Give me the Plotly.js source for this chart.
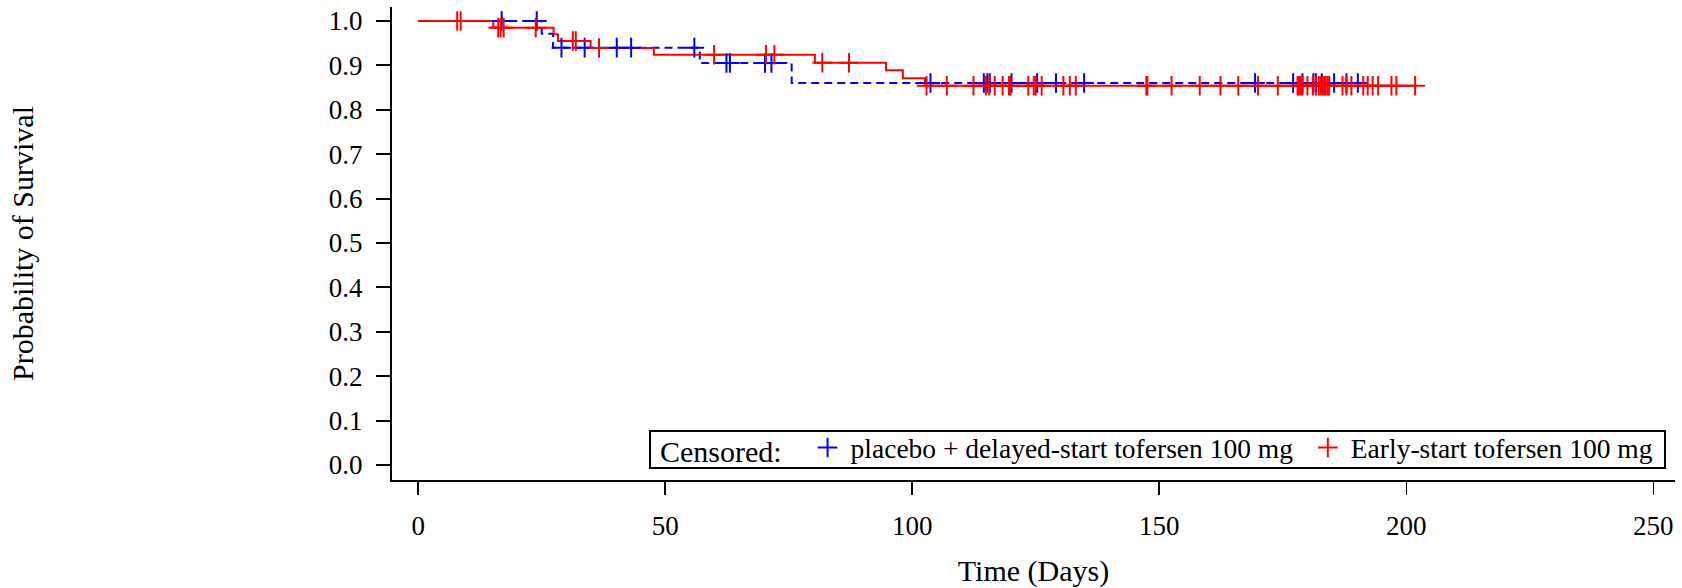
<!DOCTYPE html>
<html>
<head>
<meta charset="utf-8">
<script src="https://cdn.plot.ly/plotly-3.0.1.min.js"></script>
<style>html,body{margin:0;padding:0;background:#fff;}#chart{width:1682px;height:588px;}</style>
</head>
<body>
<div id="chart"></div>
<script>
// ---- Data ----
const placeboName = "placebo + delayed-start tofersen 100 mg";
const earlyName = "Early-start tofersen 100 mg";
const censoredLabel = "Censored:";

// Kaplan-Meier steps: event times (days) and survival after each event
const placeboEventTimes = [25, 27.3, 57, 75.6];
const placeboSurvival   = [0.971, 0.940, 0.9055, 0.8605];
const placeboLastTime   = 190.2;

const earlyEventTimes = [15.2, 27.4, 28.3, 34.9, 47.7, 80.3, 94.7, 98.1, 102.6];
const earlySurvival   = [0.985, 0.970, 0.955, 0.939, 0.924, 0.906, 0.889, 0.871, 0.854];
const earlyLastTime   = 201.8;

// Censored times (days)
const placeboCensored = [16.9, 24.0, 29.0, 33.7, 40.2, 43.1, 55.9, 62.4, 63.1, 70.2, 71.5,
  103.7, 114.5, 115.2, 115.7, 120.1, 125.3, 129.1, 134.8, 169.4, 177.1, 179.0, 181.2,
  181.7, 182.9, 185.4, 187.9, 190.2];
const earlyCensored = [7.9, 8.6, 16.2, 16.7, 17.3, 23.8, 31.3, 31.9, 36.6, 59.9, 70.4, 72.1,
  81.8, 87.2, 102.9, 107.0, 112.4, 114.9, 115.6, 116.7, 118.3, 119.6, 119.9, 123.5, 124.6,
  125.0, 126.2, 130.6, 131.9, 133.1, 147.4, 147.6, 152.5, 158.2, 162.4, 166.0, 170.0, 174.0,
  178.0, 178.3, 178.7, 179.0, 180.0, 181.1, 181.7, 182.3, 182.7, 183.1, 183.4, 183.7, 184.1,
  184.4, 187.1, 187.9, 188.9, 191.3, 192.2, 193.2, 194.3, 197.0, 198.0, 201.8];

const xTickVals = [0, 50, 100, 150, 200, 250];
const yTickVals = [0, 0.1, 0.2, 0.3, 0.4, 0.5, 0.6, 0.7, 0.8, 0.9, 1.0];

// ---- Helpers ----
function stepCurve(times, surv, last) {
  const x = [0].concat(times, [last]);
  const y = [1].concat(surv, [surv[surv.length - 1]]);
  return {x, y};
}
function survAt(t, times, surv) {
  let s = 1;
  for (let i = 0; i < times.length; i++) { if (times[i] <= t) s = surv[i]; }
  return s;
}

const FONT = "Liberation Serif, Times New Roman, serif";
const BLUE = "#0000ff", RED = "#ff0000";
const NBSP = "\u00a0";

const pc = stepCurve(placeboEventTimes, placeboSurvival, placeboLastTime);
const ec = stepCurve(earlyEventTimes, earlySurvival, earlyLastTime);

const traces = [
  {x: pc.x, y: pc.y, mode: "lines", line: {shape: "hv", color: BLUE, width: 2, dash: "8px,5px"},
   showlegend: false, hoverinfo: "skip", name: placeboName},
  {x: ec.x, y: ec.y, mode: "lines", line: {shape: "hv", color: RED, width: 2},
   showlegend: false, hoverinfo: "skip", name: earlyName},
  {x: placeboCensored, y: placeboCensored.map(t => survAt(t, placeboEventTimes, placeboSurvival)),
   mode: "markers", name: placeboName + NBSP,
   marker: {symbol: "cross-thin-open", size: 14, color: BLUE, line: {color: BLUE, width: 2}}},
  {x: earlyCensored, y: earlyCensored.map(t => survAt(t, earlyEventTimes, earlySurvival)),
   mode: "markers", name: earlyName,
   marker: {symbol: "cross-thin-open", size: 14, color: RED, line: {color: RED, width: 2}}}
];

const layout = {
  width: 1682, height: 588,
  margin: {l: 392, r: 7, t: 7, b: 108, pad: 0},
  paper_bgcolor: "#ffffff", plot_bgcolor: "#ffffff",
  font: {family: FONT, color: "#000", size: 27},
  showlegend: true,
  xaxis: {
    range: [-5.3, 254.4], tickvals: xTickVals, ticktext: xTickVals.map(String),
    showline: true, linecolor: "#000", linewidth: 2, showgrid: false, zeroline: false,
    ticks: "outside", ticklen: 13, tickwidth: 1.5, tickcolor: "#000",
    ticklabelstandoff: 8, tickfont: {size: 27, family: FONT},
    title: {text: "Time (Days)", font: {size: 30, family: FONT}, standoff: 21}
  },
  yaxis: {
    range: [-0.0338, 1.0315], tickvals: yTickVals, ticktext: yTickVals.map(v => v.toFixed(1)),
    showline: true, linecolor: "#000", linewidth: 2, showgrid: false, zeroline: false,
    ticks: "outside", ticklen: 14, tickwidth: 2, tickcolor: "#000",
    ticklabelstandoff: 8, tickfont: {size: 27, family: FONT},
    title: {text: "Probability of Survival", font: {size: 30, family: FONT}, standoff: 286}
  },
  legend: {
    orientation: "h", x: 0.9867, xanchor: "right", y: 0.0686, yanchor: "middle",
    bgcolor: "rgba(0,0,0,0)", borderwidth: 0, itemwidth: 36,
    font: {size: 27.5, family: FONT, color: "#000"},
    title: {text: censoredLabel + "  ", side: "left", font: {size: 30, family: FONT}},
    traceorder: "normal", itemclick: false, itemdoubleclick: false
  },
  shapes: [{
    type: "rect", xref: "paper", yref: "paper",
    x0: 0.2011, x1: 0.9922, y0: 0.0254, y1: 0.1035,
    line: {color: "#000", width: 2}, fillcolor: "rgba(255,255,255,1)", layer: "below"
  }]
};

Plotly.newPlot("chart", traces, layout, {displayModeBar: false, staticPlot: true});
</script>
</body>
</html>
